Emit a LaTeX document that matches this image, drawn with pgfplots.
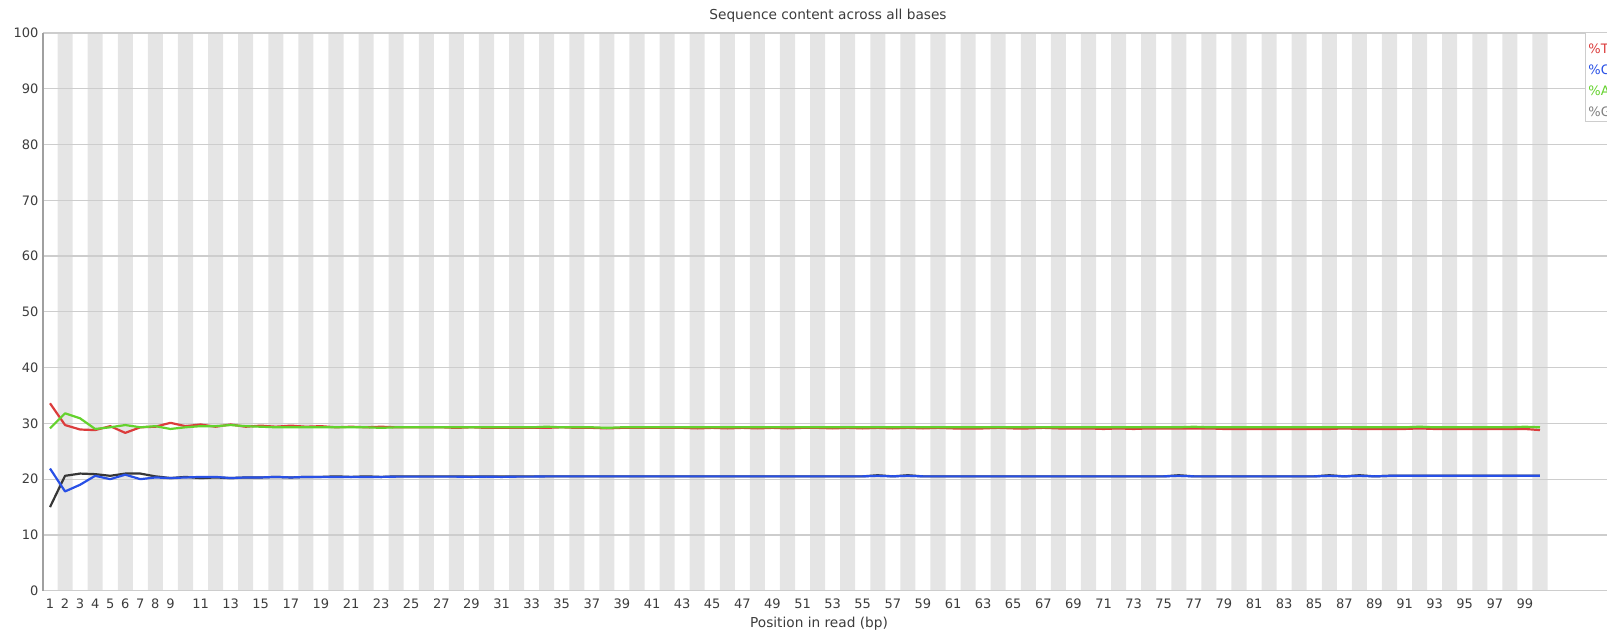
\documentclass[border=0pt]{standalone}
\usepackage{fontspec}
\setmainfont{DejaVu Sans}
\usepackage{pgfplots}
\pgfplotsset{compat=1.18}
\definecolor{stripe}{RGB}{229,229,229}
\definecolor{gridc}{RGB}{205,205,205}
\definecolor{axc}{RGB}{160,160,160}
\definecolor{cT}{RGB}{220,60,60}
\definecolor{cC}{RGB}{40,80,230}
\definecolor{cA}{RGB}{100,210,45}
\definecolor{cG}{RGB}{55,55,55}
\definecolor{txt}{RGB}{60,60,60}
\begin{document}
\begin{tikzpicture}
\begin{axis}[
  set layers,
  at={(42.5pt,40.3pt)}, anchor=south west,
  scale only axis,
  width=1617.875pt, height=557.7pt,
  xmin=0.5, xmax=108, ymin=0, ymax=100,
  axis x line*=bottom, axis y line*=left,
  x axis line style={draw=gridc, line width=1.2pt, -},
  y axis line style={draw=axc, line width=2pt, -},
  major tick length=0pt,
  ytick={0,10,...,100},
  xtick={1,2,3,4,5,6,7,8,9,11,13,...,99},
  ymajorgrids,
  grid style={draw=gridc, line width=1.2pt},
  /pgf/number format/assume math mode=true,
  tick label style={font=\fontsize{13}{15}\selectfont, text=txt},
  xticklabel style={yshift=-5pt},
  yticklabel style={xshift=-0.5pt},
  clip=true,
]
\addplot[on layer=axis background, ybar, bar width=1, fill=stripe, draw=none] coordinates {
(2,100)(4,100)(6,100)(8,100)(10,100)(12,100)(14,100)(16,100)(18,100)(20,100)
(22,100)(24,100)(26,100)(28,100)(30,100)(32,100)(34,100)(36,100)(38,100)(40,100)
(42,100)(44,100)(46,100)(48,100)(50,100)(52,100)(54,100)(56,100)(58,100)(60,100)
(62,100)(64,100)(66,100)(68,100)(70,100)(72,100)(74,100)(76,100)(78,100)(80,100)
(82,100)(84,100)(86,100)(88,100)(90,100)(92,100)(94,100)(96,100)(98,100)(100,100)};
% %T
\addplot[cT, line width=2.2pt, line join=round] coordinates {
(1,33.6)(2,29.7)(3,28.9)(4,28.8)(5,29.5)(6,28.3)(7,29.3)(8,29.4)(9,30.1)(10,29.5)
(11,29.8)(12,29.4)(13,29.8)(14,29.4)(15,29.6)(16,29.4)(17,29.6)(18,29.4)(19,29.5)(20,29.3)
(21,29.4)(22,29.3)(23,29.4)(24,29.3)(25,29.3)(26,29.3)(27,29.3)(28,29.2)(29,29.3)(30,29.2)
(31,29.2)(32,29.2)(33,29.2)(34,29.2)(35,29.3)(36,29.2)(37,29.2)(38,29.1)(39,29.2)(40,29.2)
(41,29.2)(42,29.2)(43,29.2)(44,29.1)(45,29.2)(46,29.1)(47,29.2)(48,29.1)(49,29.2)(50,29.1)
(51,29.2)(52,29.2)(53,29.1)(54,29.2)(55,29.1)(56,29.2)(57,29.1)(58,29.2)(59,29.1)(60,29.2)
(61,29.1)(62,29.1)(63,29.1)(64,29.2)(65,29.1)(66,29.1)(67,29.2)(68,29.1)(69,29.1)(70,29.1)
(71,29.0)(72,29.1)(73,29.0)(74,29.1)(75,29.1)(76,29.1)(77,29.1)(78,29.1)(79,29.0)(80,29.0)
(81,29.0)(82,29.0)(83,29.0)(84,29.0)(85,29.0)(86,29.0)(87,29.1)(88,29.0)(89,29.0)(90,29.0)
(91,29.0)(92,29.1)(93,29.0)(94,29.0)(95,29.0)(96,29.0)(97,29.0)(98,29.0)(99,29.0)(100,28.8)};
% %G
\addplot[cG, line width=2.2pt, line join=round] coordinates {
(1,15.0)(2,20.6)(3,21.0)(4,20.9)(5,20.6)(6,21.0)(7,21.0)(8,20.5)(9,20.2)(10,20.4)
(11,20.2)(12,20.3)(13,20.2)(14,20.3)(15,20.3)(16,20.4)(17,20.3)(18,20.4)(19,20.4)(20,20.5)
(21,20.4)(22,20.5)(23,20.4)(24,20.5)(25,20.5)(26,20.5)(27,20.5)(28,20.5)(29,20.5)(30,20.5)
(31,20.5)(32,20.5)(33,20.5)(34,20.5)(35,20.5)(36,20.5)(37,20.5)(38,20.5)(39,20.5)(40,20.5)
(41,20.5)(42,20.5)(43,20.5)(44,20.5)(45,20.5)(46,20.5)(47,20.5)(48,20.5)(49,20.5)(50,20.5)
(51,20.5)(52,20.5)(53,20.5)(54,20.5)(55,20.5)(56,20.7)(57,20.5)(58,20.7)(59,20.5)(60,20.5)
(61,20.5)(62,20.5)(63,20.5)(64,20.5)(65,20.5)(66,20.5)(67,20.5)(68,20.5)(69,20.5)(70,20.5)
(71,20.5)(72,20.5)(73,20.5)(74,20.5)(75,20.5)(76,20.7)(77,20.5)(78,20.5)(79,20.5)(80,20.5)
(81,20.5)(82,20.5)(83,20.5)(84,20.5)(85,20.5)(86,20.7)(87,20.5)(88,20.7)(89,20.5)(90,20.6)
(91,20.6)(92,20.6)(93,20.6)(94,20.6)(95,20.6)(96,20.6)(97,20.6)(98,20.6)(99,20.6)(100,20.6)};
% %C
\addplot[cC, line width=2.2pt, line join=round] coordinates {
(1,21.9)(2,17.8)(3,19.0)(4,20.6)(5,20.0)(6,20.8)(7,20.0)(8,20.3)(9,20.2)(10,20.3)
(11,20.4)(12,20.4)(13,20.2)(14,20.3)(15,20.3)(16,20.4)(17,20.3)(18,20.4)(19,20.4)(20,20.4)
(21,20.4)(22,20.4)(23,20.4)(24,20.45)(25,20.45)(26,20.45)(27,20.45)(28,20.45)(29,20.4)(30,20.45)
(31,20.4)(32,20.45)(33,20.45)(34,20.5)(35,20.5)(36,20.5)(37,20.5)(38,20.5)(39,20.5)(40,20.5)
(41,20.5)(42,20.5)(43,20.5)(44,20.5)(45,20.5)(46,20.5)(47,20.5)(48,20.5)(49,20.5)(50,20.5)
(51,20.5)(52,20.5)(53,20.5)(54,20.5)(55,20.5)(56,20.6)(57,20.5)(58,20.6)(59,20.5)(60,20.5)
(61,20.5)(62,20.5)(63,20.5)(64,20.5)(65,20.5)(66,20.5)(67,20.5)(68,20.5)(69,20.5)(70,20.5)
(71,20.5)(72,20.5)(73,20.5)(74,20.5)(75,20.5)(76,20.6)(77,20.5)(78,20.5)(79,20.5)(80,20.5)
(81,20.5)(82,20.5)(83,20.5)(84,20.5)(85,20.5)(86,20.6)(87,20.5)(88,20.6)(89,20.5)(90,20.6)
(91,20.6)(92,20.6)(93,20.6)(94,20.6)(95,20.6)(96,20.6)(97,20.6)(98,20.6)(99,20.6)(100,20.6)};
% %A
\addplot[cA, line width=2.2pt, line join=round] coordinates {
(1,29.1)(2,31.8)(3,30.9)(4,29.0)(5,29.3)(6,29.7)(7,29.3)(8,29.5)(9,29.0)(10,29.3)
(11,29.5)(12,29.5)(13,29.7)(14,29.5)(15,29.4)(16,29.3)(17,29.3)(18,29.3)(19,29.3)(20,29.3)
(21,29.3)(22,29.3)(23,29.2)(24,29.3)(25,29.3)(26,29.3)(27,29.3)(28,29.3)(29,29.3)(30,29.3)
(31,29.3)(32,29.3)(33,29.3)(34,29.4)(35,29.3)(36,29.3)(37,29.3)(38,29.2)(39,29.3)(40,29.3)
(41,29.3)(42,29.3)(43,29.3)(44,29.3)(45,29.3)(46,29.3)(47,29.3)(48,29.3)(49,29.3)(50,29.3)
(51,29.3)(52,29.3)(53,29.3)(54,29.3)(55,29.3)(56,29.3)(57,29.3)(58,29.3)(59,29.3)(60,29.3)
(61,29.3)(62,29.3)(63,29.3)(64,29.3)(65,29.3)(66,29.3)(67,29.3)(68,29.3)(69,29.3)(70,29.3)
(71,29.3)(72,29.3)(73,29.3)(74,29.3)(75,29.3)(76,29.3)(77,29.4)(78,29.3)(79,29.3)(80,29.3)
(81,29.3)(82,29.3)(83,29.3)(84,29.3)(85,29.3)(86,29.3)(87,29.3)(88,29.3)(89,29.3)(90,29.3)
(91,29.3)(92,29.4)(93,29.3)(94,29.3)(95,29.3)(96,29.3)(97,29.3)(98,29.3)(99,29.4)(100,29.3)};
\node[on layer=axis foreground, draw=gridc, line width=1pt, fill=white, anchor=north west,
  align=left, inner xsep=3pt, inner ysep=4pt,
  font=\fontsize{13}{21}\selectfont] at (axis cs:102.99,100.2)
  {\rule{0pt}{17.5pt}\textcolor{cT}{\%T}\\\textcolor{cC}{\%C}\\\textcolor{cA}{\%A}\\\textcolor{gray}{\%G}};
\end{axis}
\node[text=txt, font=\fontsize{13.7}{15}\selectfont] at (828pt,615pt) {Sequence content across all bases};
\node[text=txt, font=\fontsize{13.7}{15}\selectfont] at (819pt,7pt) {Position in read (bp)};
\pgfresetboundingbox
\useasboundingbox (0pt,0pt) rectangle (1607pt,631pt);
\end{tikzpicture}
\end{document}
